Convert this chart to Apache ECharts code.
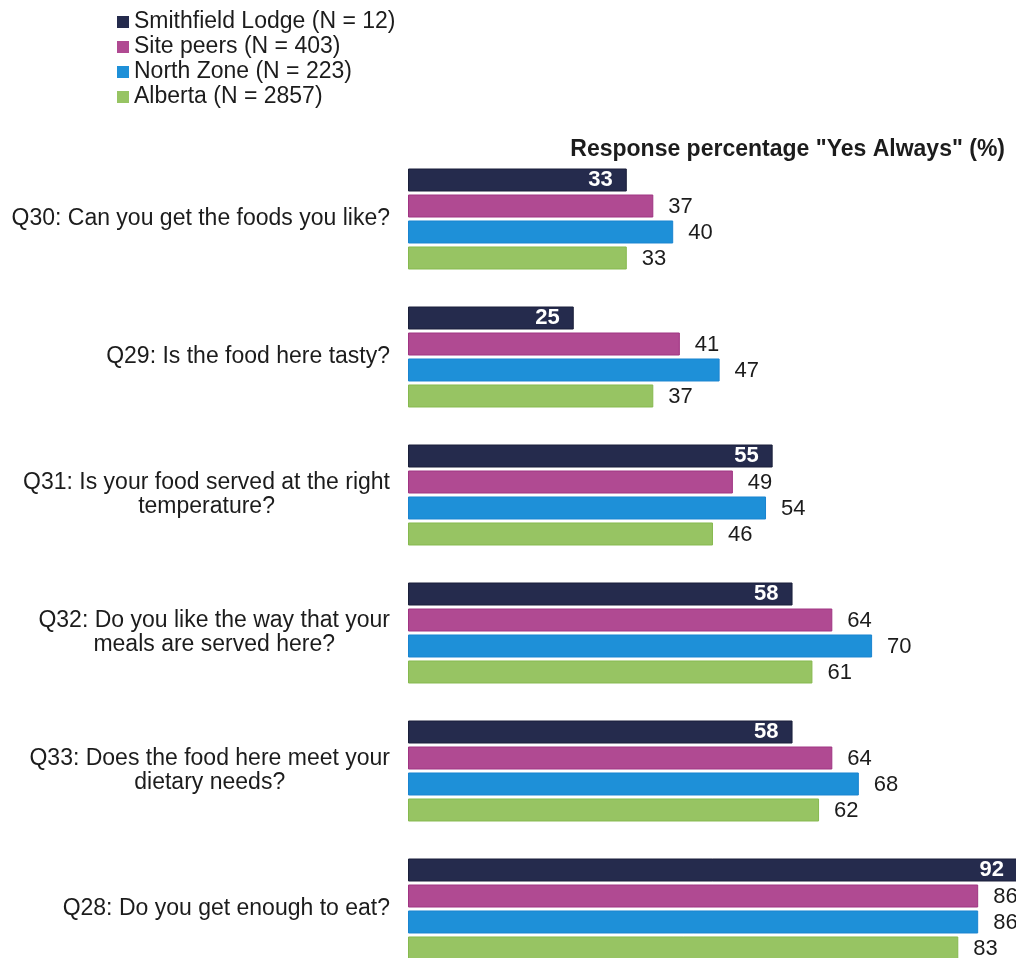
<!DOCTYPE html>
<html>
<head>
<meta charset="utf-8">
<style>
  html, body { margin: 0; padding: 0; background: #ffffff; }
  #chart { width: 1016px; height: 958px; }
</style>
<script src="https://cdn.jsdelivr.net/npm/echarts@6/dist/echarts.min.js"></script>
</head>
<body>
<div id="chart"></div>
<script>
// Survey questions, top to bottom
const questions = [
  'Q30: Can you get the foods you like?',
  'Q29: Is the food here tasty?',
  'Q31: Is your food served at the right\ntemperature?',
  'Q32: Do you like the way that your\nmeals are served here?',
  'Q33: Does the food here meet your\ndietary needs?',
  'Q28: Do you get enough to eat?'
];

// Respondent groups
const groupNames = [
  'Smithfield Lodge (N = 12)',
  'Site peers (N = 403)',
  'North Zone (N = 223)',
  'Alberta (N = 2857)'
];

// "Yes Always" response percentages per group, in question order
const smithfieldLodge = [33, 25, 55, 58, 58, 92];
const sitePeers       = [37, 41, 49, 64, 64, 86];
const northZone       = [40, 47, 54, 70, 68, 86];
const alberta         = [33, 37, 46, 61, 62, 83];

const axisTitle = 'Response percentage "Yes Always" (%)';

const FONT = '"Liberation Sans", Arial, Helvetica, sans-serif';
const fills   = ['#252b4d', '#b04a92', '#1e90d8', '#97c463'];
const borders = ['#1a1f3a', '#9f3482', '#1a84d0', '#86b94f'];

const chart = echarts.init(document.getElementById('chart'), null, { renderer: 'canvas' });

function makeSeries(idx, values) {
  const first = idx === 0;
  return {
    name: groupNames[idx],
    type: 'bar',
    data: values,
    barWidth: 23,
    barGap: '13%',
    clip: false,
    itemStyle: { color: fills[idx], borderColor: borders[idx], borderWidth: 1 },
    emphasis: { disabled: true },
    label: first ? {
      show: true,
      position: 'insideRight',
      distance: 14,
      color: '#ffffff',
      fontWeight: 'bold',
      fontSize: 22,
      fontFamily: FONT
    } : {
      show: true,
      position: 'right',
      distance: 15,
      offset: [0, 1],
      color: '#1c1c1c',
      fontSize: 22,
      fontFamily: FONT
    }
  };
}

const option = {
  backgroundColor: '#ffffff',
  animation: false,
  title: {
    text: axisTitle,
    right: 6,
    top: 133,
    textStyle: { fontFamily: FONT, fontSize: 23, fontWeight: 'bold', color: '#1c1c1c' }
  },
  legend: {
    orient: 'vertical',
    left: 117,
    top: 10,
    padding: 0,
    itemGap: 1,
    itemWidth: 12,
    itemHeight: 12,
    icon: 'rect',
    data: groupNames,
    itemStyle: { borderWidth: 0 },
    textStyle: { fontFamily: FONT, fontSize: 23, lineHeight: 24, color: '#1c1c1c' }
  },
  // plot area runs past the right and bottom edges of the page
  grid: {
    left: 408, top: 150, width: 663, height: 828,
    outerBoundsMode: 'none',
    containLabel: false
  },
  xAxis: {
    type: 'value',
    min: 0,
    max: 100,
    show: false
  },
  yAxis: {
    type: 'category',
    inverse: true,
    data: questions,
    axisLine: { show: false },
    axisTick: { show: false },
    splitLine: { show: false },
    axisLabel: {
      margin: 18,
      align: 'right',
      formatter: function (v) {
        return v.split('\n').map(function (s) { return '{c|' + s + '}'; }).join('\n');
      },
      rich: {
        c: { align: 'center', fontFamily: FONT, fontSize: 23, lineHeight: 24, color: '#1c1c1c' }
      }
    }
  },
  series: [
    makeSeries(0, smithfieldLodge),
    makeSeries(1, sitePeers),
    makeSeries(2, northZone),
    makeSeries(3, alberta)
  ]
};

chart.setOption(option);
</script>
</body>
</html>
